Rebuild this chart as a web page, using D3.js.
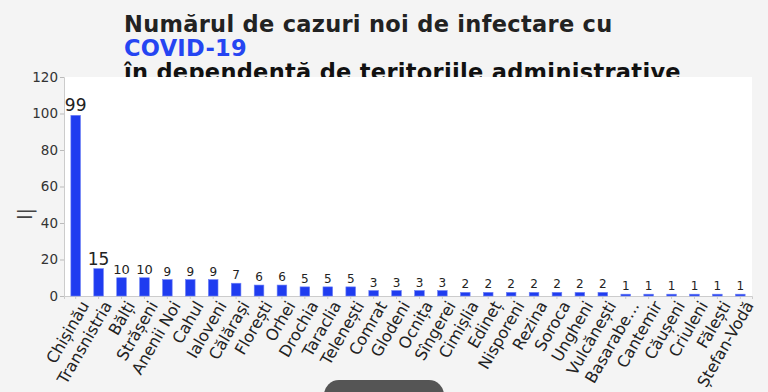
<!DOCTYPE html>
<html>
<head>
<meta charset="utf-8">
<script src="https://cdn.jsdelivr.net/npm/d3@7"></script>
<style>
	body { margin: 0; background: #f4f4f4; }
	svg { display: block; }
</style>
</head>
<body>
<svg id="chart" width="768" height="392"></svg>
<script>
const categories = ['Chișinău', 'Transnistria', 'Bălți', 'Strășeni', 'Anenii Noi', 'Cahul', 'Ialoveni', 'Călărași', 'Florești', 'Orhei',
	'Drochia', 'Taraclia', 'Telenești', 'Comrat', 'Glodeni', 'Ocnița', 'Sîngerei', 'Cimișlia', 'Edineț', 'Nisporeni',
	'Rezina', 'Soroca', 'Ungheni', 'Vulcănești', 'Basarabe…', 'Cantemir', 'Căușeni', 'Criuleni', 'Fălești', 'Ștefan-Vodă'];
const cases = [99, 15, 10, 10, 9, 9, 9, 7, 6, 6, 5, 5, 5, 3, 3, 3, 3, 2, 2, 2, 2, 2, 2, 2, 1, 1, 1, 1, 1, 1];
const yTicks = [0, 20, 40, 60, 80, 100, 120];

const svg = d3.select('#chart');
const plotLeft = 64, plotRight = 752, plotTop = 77, plotBottom = 296;

// titlul
const title = svg.append('text')
	.style('font-family', 'DejaVu Sans')
	.style('font-weight', 'bold')
	.style('font-size', '22.5px')
	.style('letter-spacing', '0.3px')
	.attr('fill', '#222');
title.append('tspan').attr('x', 124).attr('y', 32).text('Numărul de cazuri noi de infectare cu');
title.append('tspan').attr('x', 124).attr('y', 56).attr('fill', '#2545f2').text('COVID-19');
title.append('tspan').attr('x', 124).attr('y', 80).attr('fill', '#111').text('în dependență de teritoriile administrative');

// zona alba a graficului (acopera ultimul rand din titlu)
svg.append('rect')
	.attr('x', plotLeft).attr('y', plotTop)
	.attr('width', plotRight - plotLeft).attr('height', plotBottom - plotTop)
	.attr('fill', '#fff');

const x = d3.scaleBand().domain(categories).range([plotLeft, plotRight]).paddingInner(0.58).paddingOuter(0.3);
const y = d3.scaleLinear().domain([0, 120]).range([plotBottom, plotTop]);

const yAxis = svg.append('g')
	.attr('transform', `translate(${plotLeft},0)`)
	.call(d3.axisLeft(y).tickValues(yTicks).tickSize(4).tickPadding(2));
yAxis.select('.domain').attr('stroke', '#ccc');
yAxis.selectAll('line').attr('stroke', '#bbb');
yAxis.selectAll('text')
	.style('font-family', 'DejaVu Sans')
	.style('font-size', '13.5px')
	.attr('fill', '#333');

const xAxis = svg.append('g')
	.attr('transform', `translate(0,${plotBottom})`)
	.call(d3.axisBottom(x).tickSize(3).tickPadding(4));
xAxis.select('.domain').attr('stroke', '#ccc');
xAxis.selectAll('line').attr('stroke', '#ccc');
xAxis.selectAll('text')
	.style('font-family', 'DejaVu Sans')
	.style('font-size', '16px')
	.attr('fill', '#222')
	.attr('text-anchor', 'end')
	.attr('dy', '0.35em')
	.attr('transform', 'translate(3,3) rotate(-60)');

svg.append('g')
	.selectAll('rect')
	.data(cases)
	.enter()
	.append('rect')
	.attr('x', (d, i) => x(categories[i]))
	.attr('y', (d) => y(d))
	.attr('width', x.bandwidth())
	.attr('height', (d) => y(0) - y(d))
	.attr('fill', '#1f3cf0')
	.attr('stroke', '#6f82f5')
	.attr('stroke-width', 0.6);

svg.append('g')
	.selectAll('text')
	.data(cases)
	.enter()
	.append('text')
	.attr('x', (d, i) => x(categories[i]) + x.bandwidth() / 2)
	.attr('y', (d) => y(d) - 4)
	.attr('text-anchor', 'middle')
	.style('font-family', 'DejaVu Sans')
	.style('font-size', (d) => (d > 10 ? '17px' : d == 10 ? '13px' : '12px'))
	.attr('fill', '#222')
	.text((d) => d);

// titlul axei y
svg.append('text')
	.attr('transform', 'translate(32,214) rotate(-90)')
	.attr('text-anchor', 'middle')
	.style('font-family', 'DejaVu Sans')
	.style('font-size', '19px')
	.attr('fill', '#444')
	.text('l|');

// butonul de jos
svg.append('rect')
	.attr('x', 324).attr('y', 380)
	.attr('width', 120).attr('height', 30)
	.attr('rx', 15)
	.attr('fill', '#555');
</script>
</body>
</html>
